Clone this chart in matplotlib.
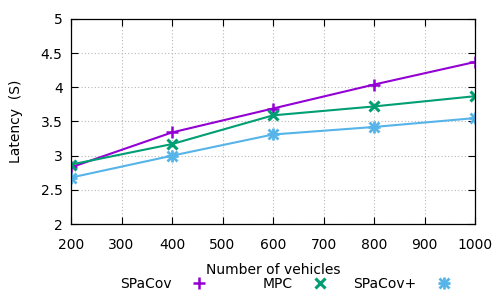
import matplotlib
matplotlib.use("Agg")
import matplotlib.pyplot as plt
from matplotlib.lines import Line2D
from matplotlib.legend_handler import HandlerTuple

vehicles = [200, 400, 600, 800, 1000]
spacov = [2.83, 3.34, 3.69, 4.04, 4.37]
mpc = [2.87, 3.17, 3.59, 3.72, 3.87]
spacov_plus = [2.68, 3.00, 3.31, 3.42, 3.55]

c_spacov = "#9400d3"
c_mpc = "#009e73"
c_plus = "#56b4e9"

plt.rcParams['font.family'] = 'DejaVu Sans'
plt.rcParams['font.size'] = 10

fig = plt.figure(figsize=(5, 3), dpi=100)
ax = fig.add_axes([0.142, 0.253, 0.808, 0.684])

ax.plot(vehicles, spacov, color=c_spacov, lw=1.5, marker='+', ms=8, mew=1.8)
ax.plot(vehicles, mpc, color=c_mpc, lw=1.5, marker='x', ms=6.5, mew=2.2)
ax.plot(vehicles, spacov_plus, color=c_plus, lw=1.5, marker='+', ms=8, mew=2)
ax.plot(vehicles, spacov_plus, color=c_plus, lw=0, marker='x', ms=6.5, mew=2)

ax.set_xlim(200, 1000)
ax.set_ylim(2, 5)
ax.set_xticks(range(200, 1001, 100))
ax.set_yticks([2, 2.5, 3, 3.5, 4, 4.5, 5])
ax.set_yticklabels(['2', '2.5', '3', '3.5', '4', '4.5', '5'])
ax.tick_params(direction='in', top=True, right=True, length=5, width=0.8)
ax.tick_params(axis='x', pad=10)
ax.tick_params(axis='y', pad=6)
ax.grid(True, color='#b8b8b8', linestyle=(0, (1, 2)), lw=0.8)
for s in ax.spines.values():
    s.set_linewidth(0.9)

ax.set_xlabel('Number of vehicles', labelpad=8)
ax.set_ylabel('Latency  (S)', labelpad=13)

h1 = Line2D([], [], color=c_spacov, lw=0, marker='+', ms=8, mew=1.8)
h2 = Line2D([], [], color=c_mpc, lw=0, marker='x', ms=6.5, mew=2.2)
h3a = Line2D([], [], color=c_plus, lw=0, marker='+', ms=8, mew=2)
h3b = Line2D([], [], color=c_plus, lw=0, marker='x', ms=6.5, mew=2)

# gnuplot style key: right-aligned text, then the point sample
for h, lab, xr in [(h1, 'SPaCov', 0.418), (h2, 'MPC', 0.661), ((h3a, h3b), 'SPaCov+', 0.908)]:
    fig.legend([h], [lab], handler_map={tuple: HandlerTuple(ndivide=1)},
               loc='center right', bbox_to_anchor=(xr, 0.053),
               frameon=False, markerfirst=False, handlelength=1.5,
               handletextpad=1.2, borderpad=0, borderaxespad=0)

fig.savefig('out.png', dpi=100)
